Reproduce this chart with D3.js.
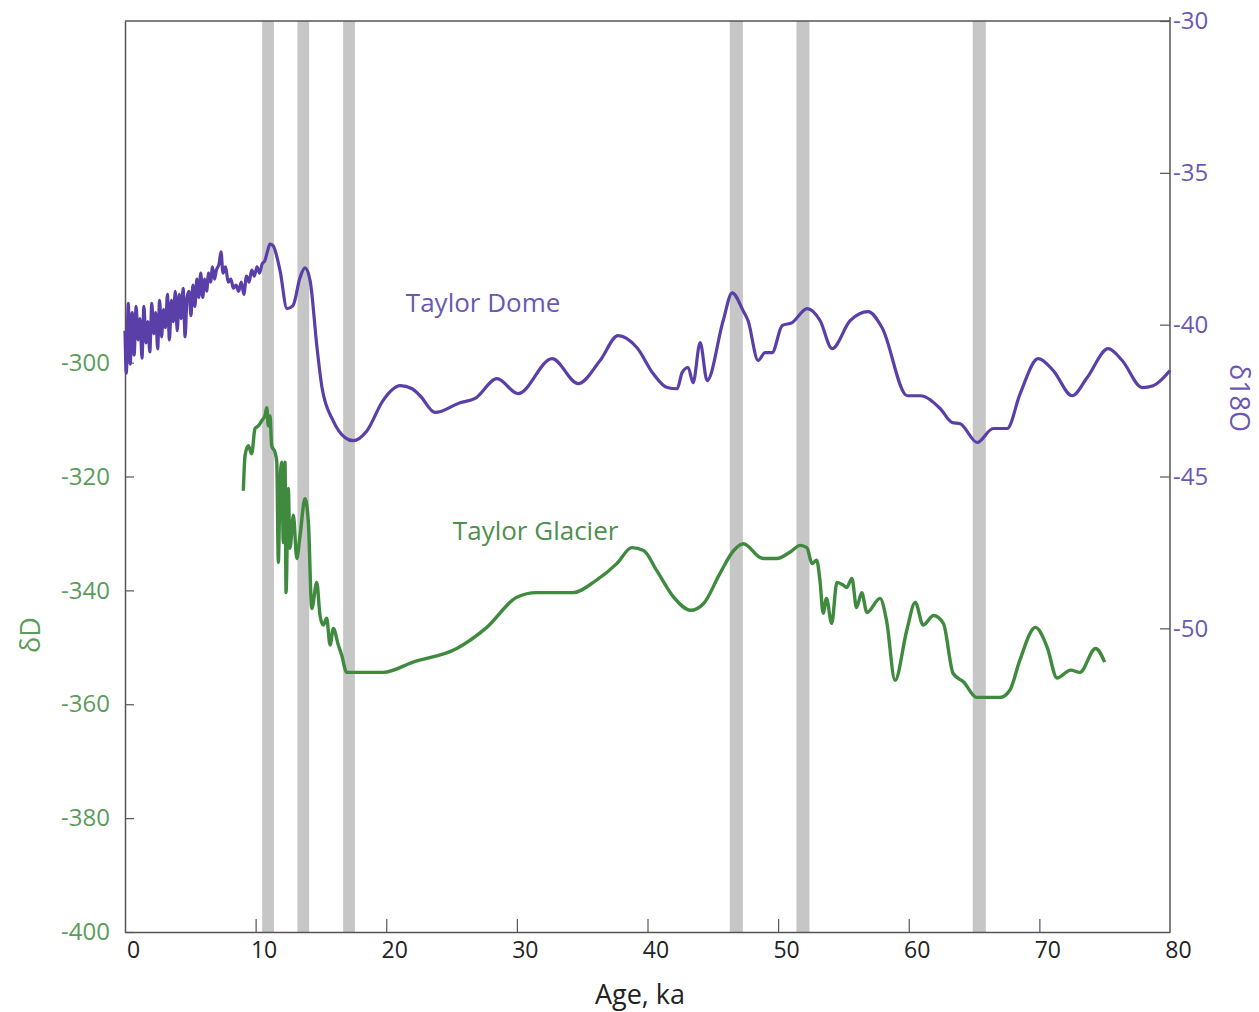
<!DOCTYPE html>
<html>
<head>
<meta charset="utf-8">
<script src="https://cdn.jsdelivr.net/npm/d3@7"></script>
<style>
  html, body { margin: 0; padding: 0; background: #fff; }
  svg { display: block; font-family: "Open Sans", "Liberation Sans", sans-serif; }
</style>
</head>
<body>
<svg id="chart" width="1259" height="1012"></svg>
<script>
// ---- Data ----
// Taylor Dome δ18O (right axis), [age ka, δ18O]
const domeAge = [0.00,0.10,0.25,0.40,0.55,0.70,0.85,1.00,1.15,1.30,1.45,1.60,1.75,1.90,2.05,2.20,2.35,2.50,2.65,2.80,2.95,3.10,3.25,3.40,3.55,3.70,3.85,4.00,4.15,4.30,4.45,4.60,4.75,4.90,5.05,5.20,5.35,5.50,5.65,5.80,5.95,6.10,6.25,6.40,6.55,6.70,6.85,7.00,7.20,7.35,7.50,7.70,7.90,8.10,8.30,8.50,8.70,8.90,9.10,9.30,9.50,9.70,9.90,10.10,10.30,10.50,10.70,10.90,11.10,11.33,11.87,12.40,12.86,13.40,13.78,14.17,14.70,15.08,15.93,16.85,17.46,18.53,19.75,21.06,21.98,22.59,23.74,25.65,26.80,28.48,30.09,32.70,34.69,36.37,37.75,39.20,40.43,41.50,42.27,42.65,43.11,43.49,44.03,44.56,45.79,46.48,47.32,47.70,48.47,49.00,49.54,50.31,51.07,52.22,53.22,54.13,55.51,56.89,57.96,59.88,60.87,62.40,63.32,63.94,65.24,66.46,67.53,68.53,69.91,71.06,72.51,73.66,75.27,76.34,77.87,78.71,80.00];
const domeD18O = [-40.2,-41.6,-39.3,-41.3,-39.6,-41.0,-39.4,-40.5,-39.8,-41.1,-39.4,-40.6,-39.9,-40.9,-39.3,-40.3,-39.6,-40.8,-39.2,-40.4,-39.5,-40.1,-39.0,-40.5,-39.2,-39.9,-38.9,-40.2,-39.0,-39.8,-38.8,-40.4,-39.1,-38.9,-39.7,-38.7,-39.4,-38.5,-39.1,-38.3,-39.1,-38.5,-38.9,-38.3,-38.6,-38.1,-38.5,-38.2,-38.0,-37.6,-38.3,-38.1,-38.6,-38.5,-38.8,-38.7,-38.9,-38.6,-39.0,-38.4,-38.6,-38.2,-38.4,-38.1,-38.3,-38.0,-37.9,-37.6,-37.35,-37.4,-38.22,-39.47,-39.37,-38.45,-38.13,-38.55,-40.76,-42.07,-43.16,-43.72,-43.82,-43.49,-42.50,-42.01,-42.11,-42.34,-42.89,-42.57,-42.43,-41.78,-42.27,-41.12,-41.94,-41.18,-40.36,-40.76,-41.61,-42.07,-42.11,-41.58,-41.41,-41.91,-40.59,-41.84,-39.87,-38.95,-39.54,-39.87,-41.18,-40.92,-40.92,-40.03,-39.93,-39.47,-39.87,-40.79,-39.87,-39.57,-40.10,-42.34,-42.34,-42.76,-43.22,-43.26,-43.88,-43.42,-43.42,-42.27,-41.12,-41.51,-42.34,-41.74,-40.79,-41.18,-42.07,-42.01,-41.51];

// Taylor Glacier δD (left axis), [age ka, δD]
const glacierAge = [9.06,9.19,9.44,9.70,9.95,10.21,10.47,10.72,10.85,10.97,11.10,11.23,11.49,11.62,11.74,11.87,12.00,12.12,12.25,12.33,12.50,12.63,12.89,13.15,13.40,13.78,14.04,14.30,14.68,14.93,15.18,15.44,15.70,15.95,16.33,16.59,16.97,18.00,19.78,22.05,25.4,27.7,30.0,31.5,34.3,36.1,37.65,38.8,39.7,40.7,42.0,43.3,44.3,45.55,46.6,47.35,48.6,48.9,49.9,50.9,51.7,52.2,52.6,52.95,53.2,53.45,53.7,54.1,54.5,55.0,55.25,55.65,56.0,56.4,56.8,57.8,58.3,58.95,59.85,60.5,61.1,61.9,62.65,63.4,64.2,65.2,67.0,67.75,68.5,69.7,70.6,71.35,72.4,73.1,74.3,75.0];
const glacierDD = [-322.5,-316.3,-314.6,-316.0,-311.6,-311.1,-310.2,-309.3,-307.9,-311.1,-309.3,-314.6,-315.8,-317.5,-335.1,-321.1,-317.5,-331.6,-317.5,-340.4,-322.1,-332.6,-326.8,-334.4,-330.4,-323.9,-328.1,-343.2,-338.6,-344.4,-346.1,-344.9,-349.6,-346.7,-349.6,-351.4,-354.4,-354.4,-354.4,-352.6,-350.2,-346.5,-341.2,-340.4,-340.4,-338.2,-335.3,-332.5,-333.0,-336.5,-341.2,-343.5,-342.3,-337.0,-333.0,-331.8,-334.2,-334.4,-334.4,-333.3,-332.1,-332.5,-335.3,-334.7,-338.2,-344.0,-341.4,-345.8,-338.6,-339.1,-339.5,-337.9,-343.0,-340.4,-343.9,-341.4,-345.3,-355.8,-347.0,-342.1,-346.1,-344.4,-345.8,-354.6,-356.1,-358.8,-358.8,-357.5,-352.3,-346.5,-350.0,-355.4,-354.0,-354.4,-350.2,-352.6];

// Grey event bands [start ka, end ka]
const bandStart = [10.5, 13.2, 16.7, 46.3, 51.4, 64.9];
const bandEnd   = [11.4, 14.1, 17.6, 47.3, 52.4, 65.9];

const xTicks = [0, 10, 20, 30, 40, 50, 60, 70, 80];
const leftTicks = [-400, -380, -360, -340, -320, -300];
const rightTicks = [-50, -45, -40, -35, -30];

// ---- Layout ----
const svg = d3.select("#chart");
const X0 = 125, X1 = 1170, YT = 21, YB = 932;

const x = d3.scaleLinear().domain([0, 80]).range([X0, X1]);
const yL = d3.scaleLinear().domain([-400, -240]).range([YB, YT]);
const yR = d3.scaleLinear().domain([-60, -30]).range([YB, YT]);

const purple = "#5a3fa8", purpleText = "#6a58b2";
const green = "#3f8a3f", greenText = "#5b9c5b";
const axisCol = "#555";
const fmt = d => String(d); // plain hyphen-minus as in the figure

// bands
svg.append("g").selectAll("rect")
  .data(bandStart.map((s, i) => [s, bandEnd[i]]))
  .join("rect")
  .attr("x", d => x(d[0]))
  .attr("width", d => x(d[1]) - x(d[0]))
  .attr("y", YT)
  .attr("height", YB - YT)
  .attr("fill", "#c6c6c6");

// top border
svg.append("line").attr("x1", X0).attr("x2", X1).attr("y1", YT).attr("y2", YT)
  .attr("stroke", axisCol).attr("stroke-width", 1.5);

// bottom axis
const gx = svg.append("g").attr("transform", `translate(0,${YB})`)
  .call(d3.axisBottom(x).tickValues(xTicks).tickFormat(fmt).tickSizeInner(-13).tickSizeOuter(0).tickPadding(10));
gx.select(".domain").attr("stroke", axisCol).attr("stroke-width", 1.5);
gx.selectAll(".tick line").attr("stroke", axisCol).attr("stroke-width", 1.2)
  .attr("display", d => (d === 0 || d === 80) ? "none" : null);
gx.selectAll(".tick text").attr("font-size", 23).attr("fill", "#222")
  .attr("dx", 8).attr("font-family", "Open Sans, sans-serif");

// left axis
const gl = svg.append("g").attr("transform", `translate(${X0},0)`)
  .call(d3.axisLeft(yL).tickValues(leftTicks).tickFormat(fmt).tickSizeInner(-9).tickSizeOuter(0).tickPadding(15));
gl.select(".domain").attr("stroke", axisCol).attr("stroke-width", 1.5);
gl.selectAll(".tick line").attr("stroke", axisCol).attr("stroke-width", 1.2);
gl.selectAll(".tick text").attr("font-size", 24).attr("fill", greenText)
  .attr("font-family", "Open Sans, sans-serif");

// right axis
const gr = svg.append("g").attr("transform", `translate(${X1},0)`)
  .call(d3.axisRight(yR).tickValues(rightTicks).tickFormat(fmt).tickSizeInner(-10).tickSizeOuter(0).tickPadding(3));
gr.select(".domain").attr("stroke", axisCol).attr("stroke-width", 1.5)
  .attr("d", `M0,${YT - 4}V${YB}`);
gr.selectAll(".tick line").attr("stroke", axisCol).attr("stroke-width", 1.2);
gr.selectAll(".tick text").attr("font-size", 24).attr("fill", purpleText)
  .attr("font-family", "Open Sans, sans-serif");

// lines
const domeData = domeAge.map((a, i) => [a, domeD18O[i]]);
const glacierData = glacierAge.map((a, i) => [a, glacierDD[i]]);

svg.append("path").datum(domeData)
  .attr("fill", "none").attr("stroke", purple).attr("stroke-width", 3.2)
  .attr("stroke-linejoin", "round")
  .attr("d", d3.line().x(d => x(d[0])).y(d => yR(d[1])).curve(d3.curveMonotoneX));

svg.append("path").datum(glacierData)
  .attr("fill", "none").attr("stroke", green).attr("stroke-width", 3.4)
  .attr("stroke-linejoin", "round")
  .attr("d", d3.line().x(d => x(d[0])).y(d => yL(d[1])).curve(d3.curveMonotoneX));

// series labels
svg.append("text").attr("x", x(21.5)).attr("y", yR(-39.3) + 9)
  .attr("font-size", 26).attr("fill", purpleText).text("Taylor Dome");
svg.append("text").attr("x", x(25.1)).attr("y", yL(-329.5) + 9)
  .attr("font-size", 26).attr("fill", "#4f8f4f").text("Taylor Glacier");

// axis titles
svg.append("text").attr("x", 640).attr("y", 1004).attr("text-anchor", "middle")
  .attr("font-size", 27).attr("fill", "#222").text("Age, ka");
svg.append("text").attr("transform", "translate(40,635) rotate(-90)")
  .attr("text-anchor", "middle").attr("font-size", 27).attr("fill", greenText).text("δD");
svg.append("text").attr("transform", "translate(1230,398) rotate(90)")
  .attr("text-anchor", "middle").attr("font-size", 27).attr("fill", purpleText).text("δ18O");
</script>
</body>
</html>
